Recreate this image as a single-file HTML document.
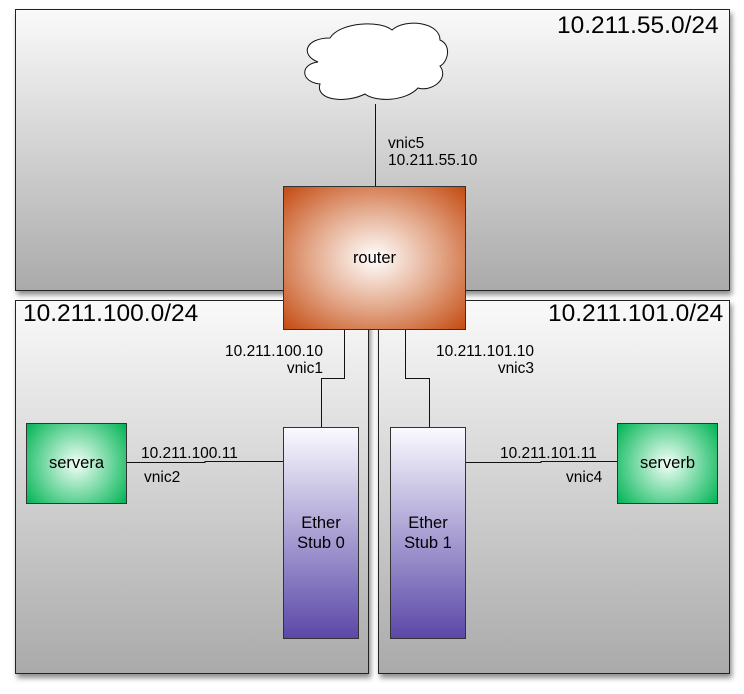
<!DOCTYPE html>
<html><head><style>
body{margin:0;width:744px;height:694px;background:#fff;position:relative;overflow:hidden;font-family:"Liberation Sans",Helvetica,sans-serif}
.p{position:absolute;border:1px solid #222;background:linear-gradient(#fafafa,#aaa);box-shadow:2px 4px 5px rgba(0,0,0,.45);box-sizing:border-box}
.t{position:absolute;font-size:24.5px;color:#000;white-space:nowrap;line-height:28px}
.l{position:absolute;font-size:15.5px;color:#000;white-space:nowrap;line-height:17px}
.n{position:absolute;border:1px solid #333;box-sizing:border-box;display:flex;align-items:center;justify-content:center;text-align:center;font-size:16.5px}
.g{background:radial-gradient(circle,#f2fff6 0%,#00b455 100%)}
.e{background:linear-gradient(#fafaff,#5b48a8);line-height:20px}
</style></head><body>
<div class="p" style="left:15px;top:9px;width:715px;height:282px"></div>
<div class="p" style="left:15px;top:300px;width:354px;height:374px"></div>
<div class="p" style="left:378px;top:300px;width:352px;height:374px"></div>
<div class="t" style="left:557px;top:12px">10.211.55.0/24</div>
<div class="t" style="left:23px;top:300px">10.211.100.0/24</div>
<div class="t" style="left:548px;top:300px">10.211.101.0/24</div>
<svg style="position:absolute;left:0;top:0" width="744" height="694">
<path d="M330,38 C340,22 380,20 392,30 C405,18 440,22 440,40 C452,45 448,62 440,66 C450,80 430,92 418,88 C405,102 375,102 365,94 C345,104 315,100 320,84 C300,82 300,64 318,62 C300,55 305,38 330,38 Z" fill="#fff" stroke="#111" stroke-width="1"/>
<g stroke="#111" stroke-width="1" fill="none">
<line x1="375.5" y1="104" x2="375.5" y2="186"/>
<polyline points="344.5,329 344.5,378.5 321.5,378.5 321.5,427"/>
<polyline points="405.5,329 405.5,378.5 429.5,378.5 429.5,427"/>
<polyline points="127,462.5 205,462.5 205,461.5 283,461.5"/>
<polyline points="465,462.5 541,462.5 541,461.5 617,461.5"/>
</g>
</svg>
<div class="n" style="left:283px;top:186px;width:183px;height:144px;background:radial-gradient(ellipse at center,#fff 0%,#e3a88a 50%,#c44a10 100%)">router</div>
<div class="n g" style="left:26px;top:423px;width:101px;height:81px">servera</div>
<div class="n g" style="left:617px;top:423px;width:101px;height:81px">serverb</div>
<div class="n e" style="left:283px;top:427px;width:76px;height:212px">Ether<br>Stub 0</div>
<div class="n e" style="left:390px;top:427px;width:76px;height:212px">Ether<br>Stub 1</div>
<div class="l" style="left:388px;top:135px">vnic5<br>10.211.55.10</div>
<div class="l" style="left:200px;top:343px;text-align:right;width:123px">10.211.100.10<br>vnic1</div>
<div class="l" style="left:410px;top:343px;text-align:right;width:124px">10.211.101.10<br>vnic3</div>
<div class="l" style="left:141px;top:445px">10.211.100.11</div>
<div class="l" style="left:144px;top:469px">vnic2</div>
<div class="l" style="left:500px;top:445px">10.211.101.11</div>
<div class="l" style="left:566px;top:469px">vnic4</div>
</body></html>
